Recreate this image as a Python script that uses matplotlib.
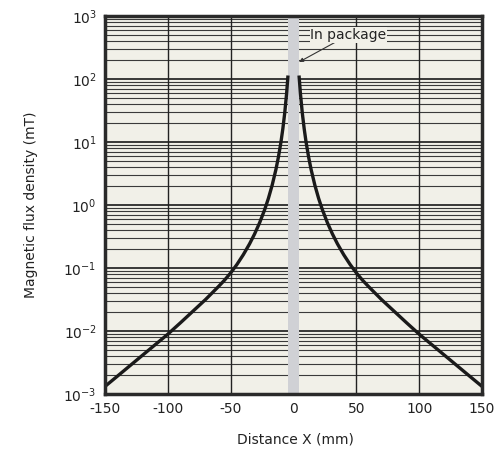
import numpy as np
import matplotlib
matplotlib.use("Agg")
import matplotlib.pyplot as plt

# distance (mm) from sensor, right-hand side; left side mirrors it
dist_mm = [4.5, 5.5, 7, 8.5, 10, 12, 14, 17, 20, 23, 27, 31, 35, 40, 45, 50,
           55, 60, 65, 70, 80, 90, 100, 110, 120, 130, 140, 150]
flux_mT = [107, 58.8, 28.8, 16.2, 9.95, 5.79, 3.66, 2.06, 1.27, 0.839, 0.521,
           0.346, 0.241, 0.162, 0.114, 0.0836, 0.0638, 0.0501, 0.0398, 0.0316,
           0.02065, 0.01349, 0.00891, 0.00608, 0.00415, 0.00283, 0.00193,
           0.00132]
package_half_width = 4.5
x_ticks = [-150, -100, -50, 0, 50, 100, 150]

left_x = -np.array(dist_mm)[::-1]
left_y = np.array(flux_mT)[::-1]
right_x = np.array(dist_mm)
right_y = np.array(flux_mT)

fig = plt.figure(figsize=(5.01, 4.68), dpi=100)
ax = fig.add_axes([0.2096, 0.1581, 0.7525, 0.8077])
ax.set_facecolor('#f1f0e8')

ax.set_yscale('log')
ax.set_xlim(-150, 150)
ax.set_ylim(1e-3, 1e3)

# grid
for d in range(-3, 3):
    for m in range(1, 10):
        v = m * 10.0 ** d
        if m == 1:
            ax.axhline(v, color='#1a1a1a', lw=1.2, zorder=1)
        else:
            ax.axhline(v, color='#3a3a3a', lw=0.8, zorder=1)
for xv in [-100, -50, 0, 50, 100]:
    ax.axvline(xv, color='#222222', lw=1.0, zorder=1)

ax.axvspan(-package_half_width, package_half_width, color='#d0d1d5', lw=0, zorder=2)

ax.plot(left_x, left_y, color='#1a1a1a', lw=2.4, zorder=3)
ax.plot(right_x, right_y, color='#1a1a1a', lw=2.4, zorder=3)

ax.annotate('In package', xy=(4.4, 186), xytext=(13.5, 500),
            fontsize=10, color='#222222', va='center', ha='left',
            bbox=dict(boxstyle='square,pad=0.05', fc='#f1f0e8', ec='none'),
            arrowprops=dict(arrowstyle='-|>', color='#333333', lw=0.8,
                            mutation_scale=6, shrinkA=0, shrinkB=0),
            zorder=4)

ax.set_xticks(x_ticks)
ax.set_xticklabels([str(t) for t in x_ticks])
ax.set_yticks([1e-3, 1e-2, 1e-1, 1e0, 1e1, 1e2, 1e3])
ax.yaxis.set_minor_locator(matplotlib.ticker.NullLocator())
ax.tick_params(length=0, labelsize=10, colors='#222222', pad=6)

for s in ax.spines.values():
    s.set_linewidth(2.5)
    s.set_color('#2a2a2a')
    s.set_zorder(5)

fig.text(0.5898, 0.06, 'Distance X (mm)', ha='center', va='center', fontsize=10, color='#222222')
fig.text(0.062, 0.5620, 'Magnetic flux density (mT)', ha='center', va='center',
         rotation=90, fontsize=10, color='#222222')

fig.savefig('out.png', dpi=100)
